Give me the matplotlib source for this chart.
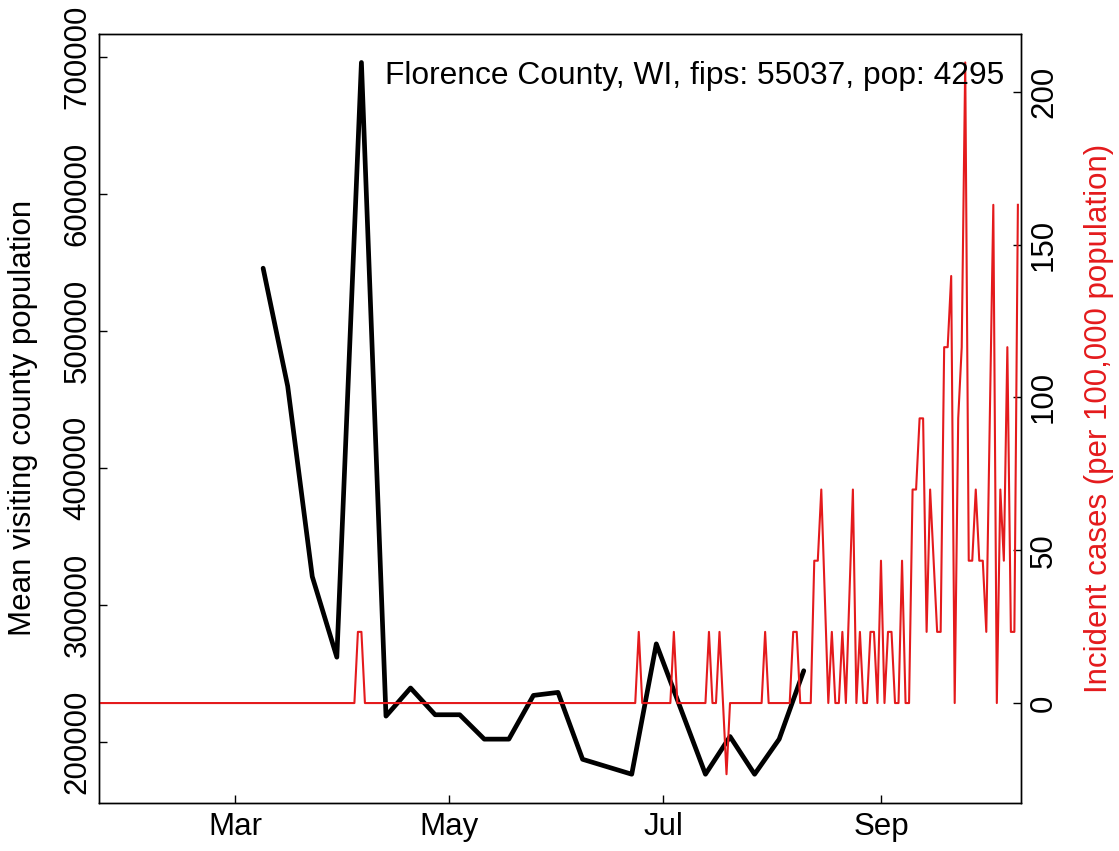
import pandas as pd
import matplotlib
matplotlib.use("Agg")
import matplotlib.pyplot as plt
import matplotlib.dates as mdates

county = "Florence County, WI"
fips = 55037
pop = 4295

# weekly mean population of the counties visiting, weeks starting Mon 9 Mar 2020
# (None = week not in the data)
visit_start = "2020-03-09"
visit_pop = [545600, 459500, 320600, 261800, 695700, 218800, 239300, 219800,
             219800, 202000, 202000, 233900, 236100, 187300, None, 176400,
             271500, None, 176400, 203900, 176400, 202000, 251900]

# daily new cases (counts) from 22 Jan 2020, None = day not in the data
case_start = "2020-01-22"
new_cases = [
    0, 0, 0, 0, 0, 0, 0, 0, 0, 0, 0, 0, 0, 0, 0, 0, 0, 0, 0, 0,
    0, 0, 0, 0, 0, 0, 0, 0, 0, 0, 0, 0, 0, 0, 0, 0, 0, 0, 0, 0,
    0, 0, 0, 0, 0, 0, 0, 0, 0, 0, 0, 0, 0, 0, 0, 0, 0, 0, 0, 0,
    0, 0, 0, 0, 0, 0, 0, 0, 0, 0, 0, 0, 0, 0, 1, 1, 0, 0, 0, 0,
    0, 0, 0, 0, 0, 0, 0, 0, 0, 0, 0, 0, 0, 0, 0, 0, 0, 0, 0, 0,
    0, 0, 0, 0, 0, 0, 0, 0, 0, 0, 0, 0, 0, 0, 0, 0, 0, 0, 0, 0,
    0, 0, 0, 0, 0, 0, 0, 0, 0, 0, 0, 0, 0, 0, 0, 0, 0, 0, 0, 0,
    0, 0, 0, 0, 0, 0, 0, 0, 0, 0, 0, 0, 0, 0, 1, 0, 0, 0, 0, 0,
    0, 0, 0, 0, 1, 0, 0, 0, 0, 0, 0, 0, 0, 0, 1, 0, 0, 1, 0, -1,
    0, 0, 0, 0, 0, 0, 0, 0, 0, 0, 1, 0, 0, 0, 0, 0, 0, 0, 1, 1,
    0, 0, 0, 0, 2, 2, 3, None, 0, 1, 0, 0, 1, 0, None, 3, 0, 1, 0, 0,
    1, 1, 0, 2, 0, 1, 1, 0, 0, 2, 0, 0, 3, 3, 4, 4, 1, 3, 2, 1,
    1, 5, 5, 6, 0, 4, 5, 9, 2, 2, 3, 2, 2, 1, 4, 7, 0, 3, 2, 5,
    1, 1, 7,
]

red = "#E41A1C"
fs = 22.5

plt.rcParams['font.family'] = ['Liberation Sans', 'DejaVu Sans']

vdates = pd.date_range(visit_start, periods=len(visit_pop), freq="7D")
visits = pd.Series(visit_pop, index=vdates, dtype=float).dropna()
cdates = pd.date_range(case_start, periods=len(new_cases), freq="D")
incid = pd.Series(new_cases, index=cdates, dtype=float).dropna() / pop * 1e5


def r_range(vals):
    # R style 4% padding
    lo, hi = vals.min(), vals.max()
    pad = 0.04 * (hi - lo)
    return lo - pad, hi + pad


fig = plt.figure(figsize=(11.19, 8.51), dpi=100)
ax = fig.add_axes([0.08874, 0.05676, 0.82341, 0.90329])
ax.plot(visits.index, visits.values, color="black", lw=3.4,
        solid_joinstyle="round", solid_capstyle="round")
ax.set_ylim(*r_range(visits))
x0 = pd.Timestamp(case_start) + pd.Timedelta(hours=8)
x1 = pd.Timestamp(case_start) + pd.Timedelta(days=262.8)
ax.set_xlim(x0, x1)
ax.set_yticks([200000, 300000, 400000, 500000, 600000, 700000])
ax.yaxis.set_major_formatter(matplotlib.ticker.FuncFormatter(lambda v, p: "%d" % v))
ax.xaxis.set_major_locator(mdates.MonthLocator(bymonth=[3, 5, 7, 9]))
ax.xaxis.set_major_formatter(mdates.DateFormatter("%b"))
ax.tick_params(axis="x", direction="in", length=5.8, width=1, labelsize=fs, pad=7)
ax.tick_params(axis="y", direction="in", length=5.8, width=1, labelsize=fs, pad=5,
               labelrotation=90)
for lab in ax.get_yticklabels():
    lab.set_va("center")
ax.set_ylabel("Mean visiting county population", fontsize=fs)
ax.yaxis.set_label_coords(-0.0665, 0.5)

ax2 = ax.twinx()
ax2.plot(incid.index, incid.values, color=red, lw=1.5)
ax2.set_ylim(*r_range(incid))
ax2.set_xlim(x0, x1)
ax2.set_yticks([0, 50, 100, 150, 200])
ax2.tick_params(axis="y", direction="in", length=5.8, width=1, labelsize=fs, pad=6,
                labelrotation=90)
for lab in ax2.get_yticklabels():
    lab.set_va("center")
ax2.set_ylabel("Incident cases (per 100,000 population)", fontsize=fs, color=red)
ax2.yaxis.set_label_coords(1.0685, 0.5)

for a in (ax, ax2):
    for s in a.spines.values():
        s.set_linewidth(1.0)

fig.text(1004 / 1119, 1 - 84 / 851,
         "%s, fips: %d, pop: %d" % (county, fips, pop),
         ha="right", va="baseline", fontsize=22.9)

fig.savefig("out.png", dpi=100)
